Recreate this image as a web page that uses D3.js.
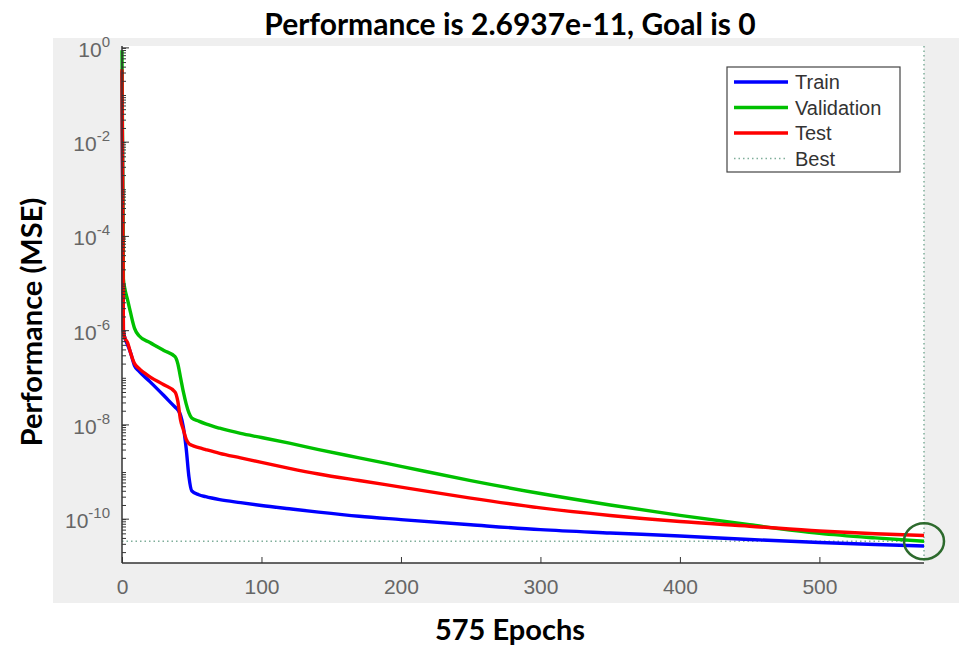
<!DOCTYPE html>
<html>
<head>
<meta charset="utf-8">
<script src="https://cdn.jsdelivr.net/npm/d3@7"></script>
<style>
  body { margin: 0; background: #fff; }
  svg text { font-family: "Liberation Sans", Arial, sans-serif; }
</style>
</head>
<body>
<div id="chart"></div>
<script>
// epochs
var epochs = [0, 1, 2, 4, 6, 9, 12, 20, 30, 38, 40, 42, 44, 46, 48, 50, 55, 60, 70, 85,
              100, 120, 141, 170, 200, 250, 300, 350, 400, 450, 500, 540, 575];

var train = [3.2e-1, 1.0e-6, 7.1e-7, 5.0e-7, 3.5e-7, 1.8e-7, 1.4e-7, 8.3e-8, 4.2e-8, 2.4e-8,
             2.1e-8, 1.6e-8, 8.9e-9, 3.2e-9, 7.9e-10, 4.0e-10, 3.3e-10, 3.0e-10, 2.6e-10, 2.24e-10,
             1.95e-10, 1.66e-10, 1.41e-10, 1.15e-10, 9.8e-11, 7.6e-11, 6.0e-11, 5.1e-11, 4.4e-11, 3.7e-11,
             3.2e-11, 2.9e-11, 2.69e-11];

var validation = [8.9e-1, 1.26e-5, 7.9e-6, 4.5e-6, 2.5e-6, 1.12e-6, 7.9e-7, 5.6e-7, 3.8e-7, 2.8e-7,
                  2.0e-7, 1.0e-7, 5.0e-8, 2.8e-8, 1.8e-8, 1.4e-8, 1.2e-8, 1.05e-8, 8.5e-9, 6.6e-9,
                  5.4e-9, 4.1e-9, 3.0e-9, 2.0e-9, 1.32e-9, 6.6e-10, 3.5e-10, 2.0e-10, 1.2e-10, 7.6e-11,
                  5.0e-11, 4.0e-11, 3.4e-11];

var test = [3.5e-1, 1.0e-6, 7.1e-7, 5.6e-7, 3.5e-7, 2.0e-7, 1.6e-7, 1.05e-7, 7.1e-8, 5.0e-8,
            3.2e-8, 1.26e-8, 7.9e-9, 5.0e-9, 4.0e-9, 3.7e-9, 3.3e-9, 3.0e-9, 2.5e-9, 2.0e-9,
            1.6e-9, 1.2e-9, 9.1e-10, 6.6e-10, 4.8e-10, 2.8e-10, 1.74e-10, 1.2e-10, 8.9e-11, 7.1e-11,
            5.6e-11, 4.9e-11, 4.5e-11];

var bestEpoch = 575;
var bestValue = 3.4e-11;

var xTicks = [0, 100, 200, 300, 400, 500];
var yTickExps = [0, -2, -4, -6, -8, -10];

var seriesNames = ["Train", "Validation", "Test", "Best"];
var seriesColors = ["#0000ff", "#00c000", "#ff0000", "#7fae9a"];

var W = 959, H = 645;
var pL = 122, pR = 924, pT = 46, pB = 563;

var svg = d3.select("#chart")
            .append("svg")
            .attr("width", W)
            .attr("height", H);

// grey figure panel
svg.append("rect")
    .attr("x", 53).attr("y", 38)
    .attr("width", W - 53).attr("height", 565)
    .attr("fill", "#efefef");

svg.append("rect")
    .attr("x", pL).attr("y", pT)
    .attr("width", pR - pL).attr("height", pB - pT)
    .attr("fill", "#fff");

var x = d3.scaleLinear().domain([0, 575]).range([pL, pR]);
var y = d3.scaleLog().domain([Math.pow(10, -10.93), Math.pow(10, 0.04)]).range([pB, pT]);

// best lines (dotted)
svg.append("line")
    .attr("x1", x(0)).attr("x2", x(bestEpoch))
    .attr("y1", y(bestValue)).attr("y2", y(bestValue))
    .attr("stroke", seriesColors[3]).attr("stroke-width", 1.5)
    .attr("stroke-dasharray", "1.5,3");
svg.append("line")
    .attr("x1", x(bestEpoch)).attr("x2", x(bestEpoch))
    .attr("y1", pT).attr("y2", pB)
    .attr("stroke", seriesColors[3]).attr("stroke-width", 1.5)
    .attr("stroke-dasharray", "1.5,3");

var line = d3.line()
    .curve(d3.curveMonotoneX)
    .x(function(d) { return x(d[0]); })
    .y(function(d) { return y(d[1]); });

[train, validation, test].forEach(function(s, i) {
    svg.append("path")
        .datum(epochs.map(function(e, j) { return [e, s[j]]; }))
        .attr("d", line)
        .attr("fill", "none")
        .attr("stroke", seriesColors[i])
        .attr("stroke-width", 3.4)
        .attr("stroke-linejoin", "round");
});

// axes
var xAxis = d3.axisBottom(x).tickValues(xTicks).tickSize(-6).tickPadding(16);
var gx = svg.append("g").attr("transform", "translate(0," + pB + ")").call(xAxis);
gx.select(".domain").attr("d", "M" + pL + ",0H" + pR).attr("stroke", "#333").attr("stroke-width", 1.5);
gx.selectAll(".tick line").attr("stroke", "#333");
gx.selectAll(".tick text").attr("font-size", 21).attr("fill", "#666");

var minorY = [];
for (var e = -11; e <= 0; e++) {
    for (var m = 1; m < 10; m++) minorY.push(m * Math.pow(10, e));
}
minorY = minorY.filter(function(v) { return v >= y.domain()[0] && v <= y.domain()[1]; });

var gy = svg.append("g").attr("transform", "translate(" + pL + ",0)");
gy.call(d3.axisLeft(y).tickValues(minorY).tickSize(-4).tickFormat(""));
gy.call(function(g) {
    g.selectAll(".tick line").attr("stroke", "#333");
    g.select(".domain").attr("d", "M0," + pT + "V" + pB).attr("stroke", "#333").attr("stroke-width", 1.5);
});
gy.selectAll(".major")
    .data(yTickExps)
    .enter()
    .append("line")
    .attr("x1", 0).attr("x2", 7)
    .attr("y1", function(d) { return y(Math.pow(10, d)); })
    .attr("y2", function(d) { return y(Math.pow(10, d)); })
    .attr("stroke", "#333");

var yl = svg.append("g").selectAll("text")
    .data(yTickExps)
    .enter()
    .append("text")
    .attr("x", pL - 12)
    .attr("y", function(d) { return y(Math.pow(10, d)) + 9; })
    .attr("text-anchor", "end")
    .attr("fill", "#666")
    .attr("font-size", 21);
yl.append("tspan").text("10");
yl.append("tspan").attr("dy", -10).attr("font-size", 15).text(function(d) { return d; });

// legend
var lg = svg.append("g").attr("transform", "translate(727,67)");
lg.append("rect").attr("width", 173).attr("height", 105)
    .attr("fill", "#fff").attr("stroke", "#444").attr("stroke-width", 1.2);
seriesNames.forEach(function(n, i) {
    var yy = 15 + i * 25.5;
    lg.append("line")
        .attr("x1", 7).attr("x2", 61).attr("y1", yy).attr("y2", yy)
        .attr("stroke", seriesColors[i])
        .attr("stroke-width", i < 3 ? 3.4 : 1.5)
        .attr("stroke-dasharray", i < 3 ? null : "1.5,3");
    lg.append("text")
        .attr("x", 68).attr("y", yy + 7)
        .attr("font-size", 20).attr("fill", "#333")
        .text(n);
});

// ring marking the best epoch
svg.append("ellipse")
    .attr("cx", x(bestEpoch)).attr("cy", y(bestValue))
    .attr("rx", 20).attr("ry", 18)
    .attr("fill", "none").attr("stroke", "#2d6a2d").attr("stroke-width", 2.5);

// titles
svg.append("text")
    .attr("x", 510).attr("y", 35)
    .attr("text-anchor", "middle")
    .style("font-family", "Lato, sans-serif")
    .attr("font-weight", "bold").attr("font-size", 30)
    .text("Performance is 2.6937e-11, Goal is 0");

svg.append("text")
    .attr("x", 510).attr("y", 640)
    .attr("text-anchor", "middle")
    .style("font-family", "Lato, sans-serif")
    .attr("font-weight", "bold").attr("font-size", 29)
    .text("575 Epochs");

svg.append("text")
    .attr("transform", "translate(42,322) rotate(-90)")
    .attr("text-anchor", "middle")
    .style("font-family", "Lato, sans-serif")
    .attr("font-weight", "bold").attr("font-size", 29)
    .text("Performance (MSE)");
</script>
</body>
</html>
